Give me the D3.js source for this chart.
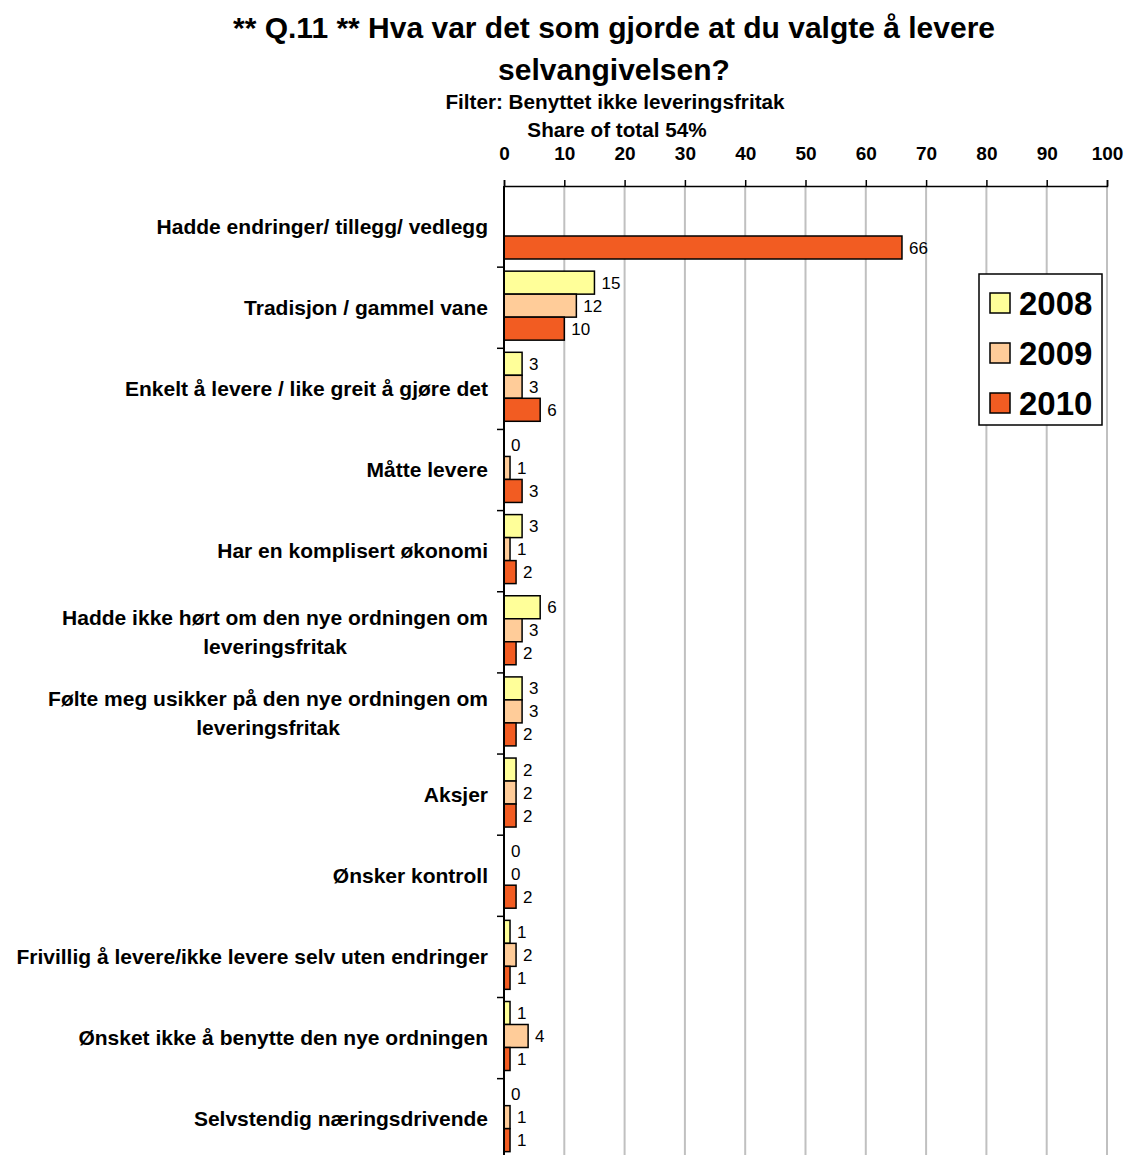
<!DOCTYPE html>
<html><head><meta charset="utf-8">
<script src="https://cdn.jsdelivr.net/npm/d3@7/dist/d3.min.js"></script>
<style>body{margin:0;background:#fff}svg{display:block}text{font-family:"Liberation Sans",Arial,sans-serif}</style>
</head><body><svg id="c" width="1127" height="1155"></svg>
<script>
const categories = [
  ["Hadde endringer/ tillegg/ vedlegg"],
  ["Tradisjon / gammel vane"],
  ["Enkelt å levere / like greit å gjøre det"],
  ["Måtte levere"],
  ["Har en komplisert økonomi"],
  ["Hadde ikke hørt om den nye ordningen om","leveringsfritak"],
  ["Følte meg usikker på den nye ordningen om","leveringsfritak"],
  ["Aksjer"],
  ["Ønsker kontroll"],
  ["Frivillig å levere/ikke levere selv uten endringer"],
  ["Ønsket ikke å benytte den nye ordningen"],
  ["Selvstendig næringsdrivende"]
];
const seriesNames = ["2008","2009","2010"];
const v2008 = [null,15,3,0,3,6,3,2,0,1,1,0];
const v2009 = [null,12,3,1,1,3,3,2,0,2,4,1];
const v2010 = [66,10,6,3,2,2,2,2,2,1,1,1];
const xTicks = [0,10,20,30,40,50,60,70,80,90,100];
const colors = ["#FFFF99","#FFCC99","#F25C22"];
const seriesValues = [v2008,v2009,v2010];

const svg = d3.select("#c");
const x = d3.scaleLinear().domain([0,100]).range([504,1107]);
const top0 = 186, bandH = 81.15;
const y = d3.scaleBand().domain(d3.range(categories.length)).range([top0, top0+bandH*categories.length]).padding(0);
const ys = d3.scaleBand().domain(seriesNames).range([4,73]).padding(0);

// titles
const title = svg.append("g").attr("font-weight","bold").attr("text-anchor","middle").attr("fill","#000");
title.append("text").attr("x",614).attr("y",38).attr("font-size",30).text("** Q.11 ** Hva var det som gjorde at du valgte å levere");
title.append("text").attr("x",614).attr("y",80).attr("font-size",30).text("selvangivelsen?");
title.append("text").attr("x",615).attr("y",109).attr("font-size",20.7).text("Filter: Benyttet ikke leveringsfritak");
title.append("text").attr("x",617).attr("y",137).attr("font-size",20.7).text("Share of total 54%");

// gridlines
svg.append("g").selectAll("line").data(xTicks.slice(1)).join("line")
  .attr("x1",d=>x(d)).attr("x2",d=>x(d)).attr("y1",top0).attr("y2",1155)
  .attr("stroke","#c0c0c0").attr("stroke-width",2);

// x axis at top
const xAxis = d3.axisTop(x).tickValues(xTicks).tickSize(6).tickPadding(20).tickFormat(d3.format("d"));
const gx = svg.append("g").attr("transform",`translate(0,${top0})`).call(xAxis);
gx.select(".domain").attr("stroke","#000").attr("stroke-width",1.5);
gx.selectAll(".tick line").attr("stroke","#000").attr("stroke-width",1.5);
gx.selectAll(".tick text").attr("font-size",19).attr("font-weight","bold").attr("fill","#000")
  .attr("font-family","Liberation Sans, Arial, sans-serif");

// bars
categories.forEach((c,i)=>{
  seriesNames.forEach((s,j)=>{
    const v = seriesValues[j][i];
    if(v===null) return;
    const by = y(i)+ys(s);
    if(v>0){
      svg.append("rect").attr("x",x(0)).attr("y",by).attr("width",x(v)-x(0)).attr("height",ys.bandwidth())
        .attr("fill",colors[j]).attr("stroke","#000").attr("stroke-width",1.5);
    }
    svg.append("text").attr("x",x(v)+7).attr("y",by+ys.bandwidth()/2+6)
      .attr("font-size",17).attr("fill","#000").text(v);
  });
});

// y axis
const gy = svg.append("g");
gy.append("line").attr("x1",x(0)).attr("x2",x(0)).attr("y1",top0).attr("y2",1155).attr("stroke","#000").attr("stroke-width",2);
gy.selectAll("line.t").data(d3.range(1,categories.length)).join("line").attr("class","t")
  .attr("x1",497).attr("x2",x(0)).attr("y1",d=>top0+d*bandH).attr("y2",d=>top0+d*bandH)
  .attr("stroke","#000").attr("stroke-width",1.5);

// category labels
categories.forEach((c,i)=>{
  const cy = y(i)+bandH/2;
  const lh = 29;
  const g = svg.append("g").attr("font-size",21).attr("font-weight","bold").attr("fill","#000");
  if(c.length===1){
    g.append("text").attr("x",488).attr("y",cy+7).attr("text-anchor","end").text(c[0]);
  } else {
    const t1 = g.append("text").attr("x",488).attr("y",cy-lh/2+7).attr("text-anchor","end").text(c[0]);
    const w = t1.node().getComputedTextLength();
    g.append("text").attr("x",488-w/2).attr("y",cy+lh/2+7).attr("text-anchor","middle").text(c[1]);
  }
});

// legend
const lg = svg.append("g");
lg.append("rect").attr("x",979).attr("y",274).attr("width",123).attr("height",151).attr("fill","#fff").attr("stroke","#000").attr("stroke-width",1.5);
seriesNames.forEach((s,j)=>{
  const cy = 303 + j*50;
  lg.append("rect").attr("x",990).attr("y",cy-10).attr("width",20).attr("height",20).attr("fill",colors[j]).attr("stroke","#000").attr("stroke-width",1.5);
  lg.append("text").attr("x",1019).attr("y",cy+12).attr("font-size",33).attr("font-weight","bold").attr("fill","#000").text(s);
});
</script></body></html>
